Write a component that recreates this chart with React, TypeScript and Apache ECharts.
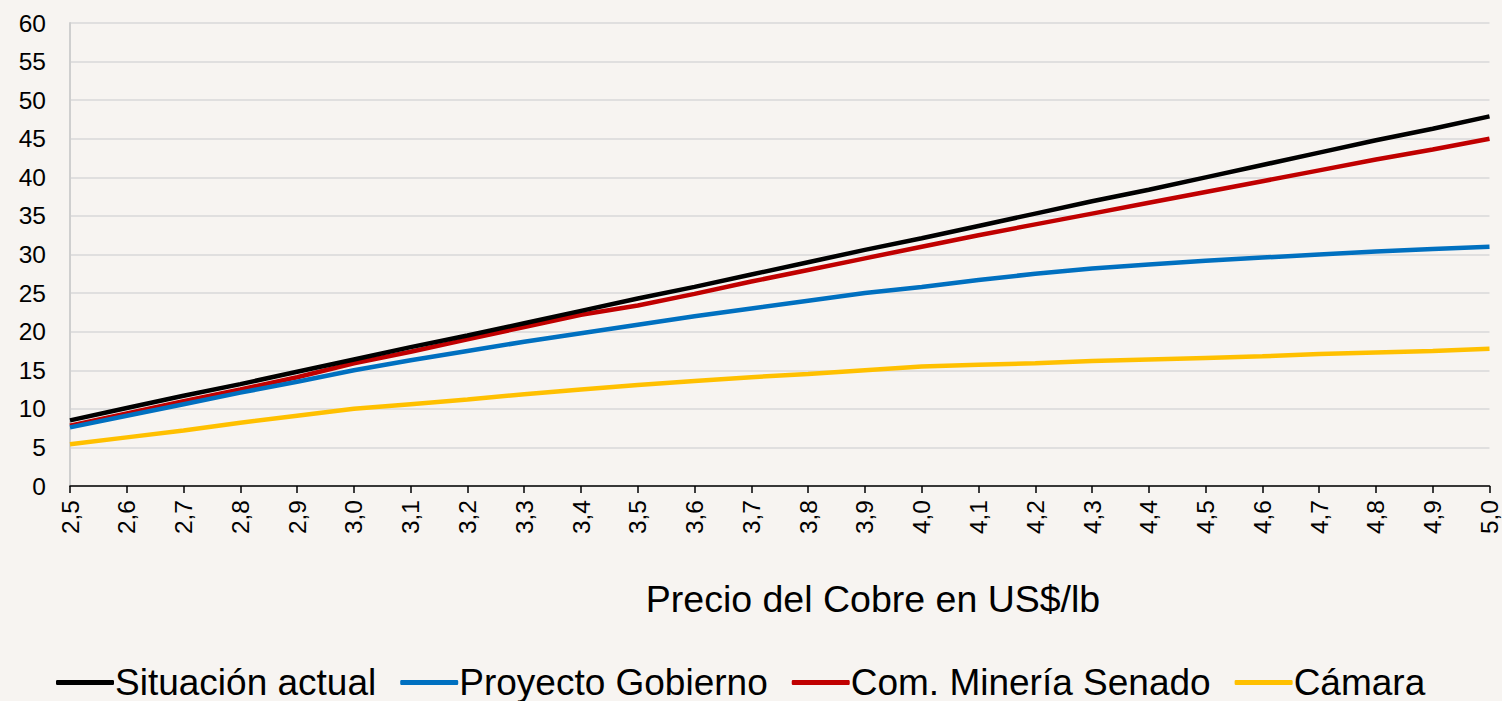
import React, { useEffect, useRef } from "react";
import * as echarts from "echarts";

const categories = ["2,5","2,6","2,7","2,8","2,9","3,0","3,1","3,2","3,3","3,4","3,5","3,6","3,7","3,8","3,9","4,0","4,1","4,2","4,3","4,4","4,5","4,6","4,7","4,8","4,9","5,0"];
const situacionActual = [8.5,10.1,11.7,13.2,14.8,16.4,18.0,19.5,21.1,22.7,24.3,25.8,27.4,29.0,30.6,32.1,33.7,35.3,36.9,38.4,40.0,41.6,43.2,44.8,46.3,47.9];
const proyectoGobierno = [7.6,9.1,10.6,12.1,13.5,15.0,16.3,17.5,18.7,19.8,20.9,22.0,23.0,24.0,25.0,25.8,26.7,27.5,28.2,28.7,29.2,29.6,30.0,30.4,30.7,31.0];
const comMineriaSenado = [7.8,9.4,11.0,12.5,14.1,15.9,17.4,19.0,20.6,22.2,23.4,24.9,26.5,28.0,29.5,31.0,32.5,33.9,35.3,36.7,38.1,39.5,40.9,42.3,43.6,45.0];
const camara = [5.4,6.3,7.2,8.2,9.1,10.0,10.6,11.2,11.9,12.5,13.1,13.6,14.1,14.5,15.0,15.5,15.7,15.9,16.2,16.4,16.6,16.8,17.1,17.3,17.5,17.8];
const seriesNames = ["Situación actual", "Proyecto Gobierno", "Com. Minería Senado", "Cámara"];
const seriesColors = ["#000000", "#0070c0", "#c00000", "#ffc000"];
const xTitle = "Precio del Cobre en US$/lb";

const FONT = "'Liberation Sans', Arial, sans-serif";

export default function App() {
  const ref = useRef<HTMLDivElement>(null);
  useEffect(() => {
    if (!ref.current) return;
    const chart = echarts.init(ref.current, undefined, { renderer: "svg" });
    const data = [situacionActual, proyectoGobierno, comMineriaSenado, camara];
    chart.setOption({
      animation: false,
      backgroundColor: "#f7f4f1",
      textStyle: { fontFamily: FONT },
      grid: { left: 70, right: 12, top: 23, bottom: 215 },
      legend: {
        data: seriesNames,
        bottom: 0,
        left: 56,
        padding: 0,
        itemWidth: 58,
        itemHeight: 5,
        itemGap: 24,
        icon: "roundRect",
        textStyle: { fontSize: 37, lineHeight: 37, color: "#000", fontFamily: FONT, padding: [0, 0, 0, -4] },
      },
      xAxis: {
        type: "category",
        data: categories,
        boundaryGap: false,
        axisLine: { lineStyle: { color: "#000", width: 1.5 } },
        axisTick: { show: true, interval: 0, length: 7, lineStyle: { color: "#000", width: 1.5 } },
        axisLabel: { interval: 0, rotate: 90, fontSize: 24.5, color: "#000", margin: 14, fontFamily: FONT },
        splitLine: { show: false },
      },
      yAxis: {
        type: "value",
        min: 0,
        max: 60,
        interval: 5,
        axisLine: { show: true, lineStyle: { color: "#cfcfcf", width: 2 } },
        axisTick: { show: false },
        axisLabel: { fontSize: 24.5, color: "#000", margin: 24, fontFamily: FONT },
        splitLine: { lineStyle: { color: "#d9d9d9", width: 1.5 } },
      },
      graphic: [
        {
          type: "text",
          x: 873,
          y: 599,
          style: {
            text: xTitle,
            fontSize: 37.5,
            fontFamily: FONT,
            fill: "#000",
            align: "center",
            verticalAlign: "middle",
          },
        },
      ],
      series: data.map((d, i) => ({
        name: seriesNames[i],
        type: "line",
        data: d,
        symbol: "none",
        lineStyle: { color: seriesColors[i], width: 4.5 },
        itemStyle: { color: seriesColors[i] },
        z: 10 - i,
      })),
    });
    return () => chart.dispose();
  }, []);
  return (
    <div
      ref={ref}
      style={{ position: "fixed", left: 0, top: 0, width: 1502, height: 701 }}
    />
  );
}
